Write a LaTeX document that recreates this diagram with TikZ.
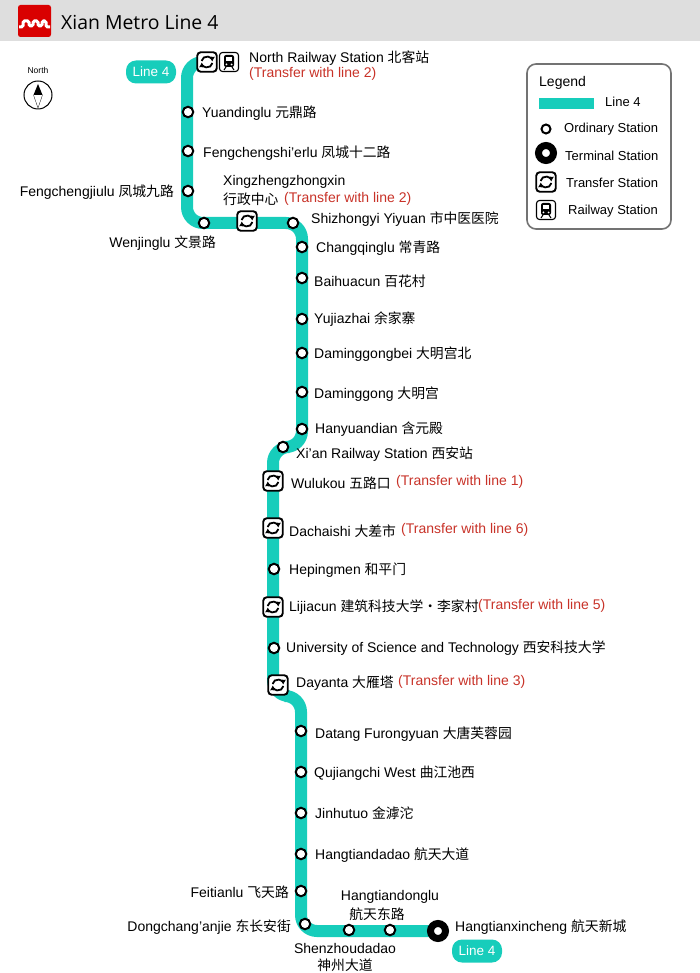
\documentclass[tikz,border=0pt]{standalone}
\usepackage{fontspec}
\setmainfont{Liberation Sans}
\newfontfamily\cjk{Noto Sans CJK SC}
\newfontfamily\titlefont{Open Sans}
\usetikzlibrary{backgrounds,arrows.meta}
\definecolor{metro}{RGB}{23,205,187}
\definecolor{transferred}{RGB}{200,50,40}
\newcommand{\zh}[1]{{\cjk\fontsize{13.8}{16}\selectfont #1}}
\tikzset{
  stn/.style={circle,draw=black,fill=white,line width=2pt,minimum size=10.5pt,inner sep=0pt},
  terminalstn/.style={circle,draw=black,fill=white,line width=7pt,minimum size=15pt,inner sep=0pt},
  transferbox/.style={draw=black,fill=white,rounded corners=3.5pt,line width=1.9pt,minimum size=19.5pt,inner sep=0pt},
  railbox/.style={draw=black,fill=white,rounded corners=3pt,line width=1.1pt,minimum size=19pt,inner sep=0pt},
  lbl/.style={anchor=west,inner sep=0pt,font=\fontsize{14}{16}\selectfont},
  lblr/.style={lbl,anchor=east},
  lblc/.style={lbl,anchor=center},
  legtext/.style={lbl,font=\fontsize{13}{15}\selectfont},
  redlbl/.style={lbl,text=transferred},
  badge/.style={fill=metro,text=white,rounded corners=10pt,minimum width=50pt,minimum height=23pt,inner sep=0pt,font=\fontsize{13.5}{15}\selectfont},
  metroline/.style={draw=metro,line width=12pt,rounded corners=16pt},
  transferglyph/.pic={
    \draw[line width=1.8pt,-{Latex[length=4.5pt,width=6.5pt]}] (-5.4,-1) arc (190:355:5.4) ;
    \draw[line width=1.8pt,-{Latex[length=4.5pt,width=6.5pt]}] (5.4,1) arc (10:175:5.4) ;
  },
  railglyph/.pic={
    \fill[rounded corners=2pt] (-5,-7) rectangle (5,5) ;
    \fill[white] (-3.4,-4.6) rectangle (3.4,-0.6) ;
    \fill[white] (-2.6,2.4) circle (1) (2.6,2.4) circle (1) ;
    \draw[line width=1pt] (-3,5) -- (-5,8) (3,5) -- (5,8) ;
  }
}
\begin{document}
\begin{tikzpicture}[x=1pt,y=-1pt]
  \useasboundingbox (0,0) rectangle (700,973) ;
  % header
  \fill[black!13] (0,0) rectangle (700,41) ;
  \fill[red!85!black,rounded corners=2.5pt] (18,5) rectangle (51,37) ;
  \draw[white,line width=3pt,rounded corners=1.5pt] (19,27) -- (23,27) -- (23,21) -- (29,21) -- (29,26) -- (33,26) -- (33,21) -- (38,21) -- (38,26) -- (42,26) -- (42,21) -- (46,21) -- (46,27) -- (50,27) ;
  \node[anchor=west,inner sep=0pt,font=\titlefont\fontsize{19.4}{24}\selectfont] (title) at (61,22) {Xian Metro Line 4} ;
  % compass
  \node[inner sep=0pt,font=\fontsize{8.5}{10}\selectfont] (north) at (38,70) {North} ;
  \node[circle,draw=black,line width=1pt,minimum size=28pt,inner sep=0pt] (compass) at (38,95) {} ;
  \fill (38,84) -- (33.5,95) -- (42.5,95) -- cycle ;
  \draw[line width=0.3pt] (33.5,95) -- (38,108) -- (42.5,95) ;
  % stations
  \foreach \nm/\x/\y in {yuanding/188/112,fengshier/188/151,fengjiu/188/191,wenjing/204/223,
      shizhongyi/293/223,changqing/302/247,baihua/302/278,yujia/302/319,dmgbei/302/353,
      dmg/302/392,hanyuan/302/429,xianrail/283/447,heping/274/569,univ/274/648,
      datang/301/731,qujiang/301/772,jinhu/301/813,hangda/301/854,feitian/301/891,
      dongchang/305/924,shenzhou/349/930,hangdong/390/930}
    \node[stn] (\nm) at (\x,\y) {} ;
  \foreach \nm/\x/\y in {northst/207/62,xingzheng/247/221,wulukou/273/481,dachaishi/273/528,
      lijia/273/607,dayanta/278/685}
    { \node[transferbox] (\nm) at (\x,\y) {} ;
      \pic at (\nm) {transferglyph} ; }
  \node[railbox] (railst) at (229,62) {} ;
  \pic at (railst) {railglyph} ;
  \node[terminalstn] (hangxin) at (438,931) {} ;
  % corners of the line
  \coordinate (c1) at (187,62) ;
  \coordinate (c2) at (187,223) ;
  \coordinate (c3) at (302,223) ;
  \coordinate (c4) at (302,447) ;
  \coordinate (c5) at (273,447) ;
  \coordinate (c6) at (273,696) ;
  \coordinate (c7) at (301,696) ;
  \coordinate (c8) at (301,931) ;
  \begin{pgfonlayer}{background}
    \draw[metroline] (northst.center) -- (c1) -- (c2) -- (c3) -- (c4)
      -- (c5) -- (c6) -- (c7) -- (c8) -- (hangxin.center) ;
  \end{pgfonlayer}
  \node[badge] (badgetop) at (151,72) {Line 4} ;
  \node[badge] (badgebot) at (477,951) {Line 4} ;
  % labels
  \foreach \nm/\x/\y/\txt in {
      a/249/58/{North Railway Station \zh{北客站}},
      b/202/113/{Yuandinglu \zh{元鼎路}},
      c/203/153/{Fengchengshi'erlu \zh{凤城十二路}},
      d/223/182/{Xingzhengzhongxin},
      e/223/199/{\zh{行政中心}},
      f/311/219/{Shizhongyi Yiyuan \zh{市中医医院}},
      g/316/248/{Changqinglu \zh{常青路}},
      h/314/281/{Baihuacun \zh{百花村}},
      i/314/319/{Yujiazhai \zh{余家寨}},
      j/314/354/{Daminggongbei \zh{大明宫北}},
      k/314/394/{Daminggong \zh{大明宫}},
      l/315/429/{Hanyuandian \zh{含元殿}},
      m/296/454/{Xi'an Railway Station \zh{西安站}},
      n/291/483/{Wulukou \zh{五路口}},
      o/289/531/{Dachaishi \zh{大差市}},
      p/289/570/{Hepingmen \zh{和平门}},
      q/289/607/{Lijiacun \zh{建筑科技大学・李家村}},
      r/286/648/{University of Science and Technology \zh{西安科技大学}},
      s/296/683/{Dayanta \zh{大雁塔}},
      t/315/734/{Datang Furongyuan \zh{大唐芙蓉园}},
      u/314/773/{Qujiangchi West \zh{曲江池西}},
      v/315/813/{Jinhutuo \zh{金滹沱}},
      w/315/855/{Hangtiandadao \zh{航天大道}},
      x/455/927/{Hangtianxincheng \zh{航天新城}}}
    \node[lbl] (lbl\nm) at (\x,\y) {\txt} ;
  \node[lblr] (lblfengjiu) at (174,192) {Fengchengjiulu \zh{凤城九路}} ;
  \node[lblr] (lblwenjing) at (216,243) {Wenjinglu \zh{文景路}} ;
  \node[lblr] (lblfeitian) at (289,892) {Feitianlu \zh{飞天路}} ;
  \node[lblr] (lbldongchang) at (291,927) {Dongchang'anjie \zh{东长安街}} ;
  \node[lblc] (lblhangdong) at (390,897) {Hangtiandonglu} ;
  \node[lblc] (lblhangdongzh) at (377,914) {\zh{航天东路}} ;
  \node[lblc] (lblshenzhou) at (345,948) {Shenzhoudadao} ;
  \node[lblc] (lblshenzhouzh) at (345,965) {\zh{神州大道}} ;
  % transfers
  \foreach \nm/\x/\y/\n in {ta/249/74/2,tb/284/199/2,tc/396/482/1,td/401/530/6,te/478/606/5,tf/398/682/3}
    \node[redlbl] (\nm) at (\x,\y) {(Transfer with line \n)} ;
  % legend
  \draw[draw=black!55,line width=1.6pt,fill=white,rounded corners=9pt] (527,64) rectangle (671,229) ;
  \node[lbl] (legtitle) at (539,83) {Legend} ;
  \fill[metro] (539,98) rectangle (594,109) ;
  \node[legtext] (legline) at (605,102) {Line 4} ;
  \node[stn,minimum size=9pt] (legord) at (546,129) {} ;
  \node[legtext] (legordt) at (564,129) {Ordinary Station} ;
  \node[terminalstn] (legterm) at (546,153) {} ;
  \node[legtext] (legtermt) at (565,156) {Terminal Station} ;
  \node[transferbox] (legtrans) at (546,182) {} ;
  \pic at (legtrans) {transferglyph} ;
  \node[legtext] (legtranst) at (566,183) {Transfer Station} ;
  \node[railbox] (legrail) at (546,210) {} ;
  \pic at (legrail) {railglyph} ;
  \node[legtext] (legrailt) at (568,211) {Railway Station} ;
\end{tikzpicture}
\end{document}
